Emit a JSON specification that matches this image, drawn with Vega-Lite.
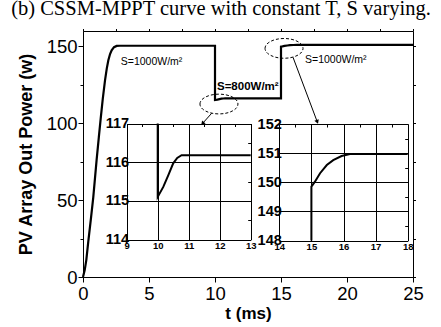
{
  "$schema": "https://vega.github.io/schema/vega-lite/v6.json",
  "width": 330,
  "height": 246,
  "autosize": {"type": "none"},
  "padding": {"left": 83, "top": 31, "right": 28, "bottom": 50},
  "background": "white",
  "title": {
    "text": "(b) CSSM-MPPT curve with constant T, S varying.",
    "font": "Liberation Serif",
    "fontSize": 20.5,
    "fontWeight": "normal",
    "color": "black",
    "anchor": "middle",
    "baseline": "alphabetic",
    "dx": -27,
    "dy": 19,
    "offset": 12
  },
  "datasets": {
    "power": [
      {"t": 0, "p": 0}, {"t": 0.13, "p": 4.5}, {"t": 0.25, "p": 11}, {"t": 0.4, "p": 23},
      {"t": 0.6, "p": 38}, {"t": 0.78, "p": 52}, {"t": 1.03, "p": 76}, {"t": 1.2, "p": 91},
      {"t": 1.34, "p": 103}, {"t": 1.5, "p": 116}, {"t": 1.67, "p": 128}, {"t": 1.8, "p": 135.5},
      {"t": 1.92, "p": 141}, {"t": 2.05, "p": 145}, {"t": 2.17, "p": 147.5}, {"t": 2.35, "p": 149.5},
      {"t": 2.55, "p": 150.3}, {"t": 2.8, "p": 150.4},
      {"t": 10, "p": 150.4}, {"t": 10, "p": 115.1}, {"t": 10.18, "p": 115.36}, {"t": 10.34, "p": 115.66},
      {"t": 10.5, "p": 115.97}, {"t": 10.63, "p": 116.11}, {"t": 10.77, "p": 116.18}, {"t": 13, "p": 116.18},
      {"t": 15, "p": 116.18}, {"t": 15, "p": 149.85}, {"t": 15.11, "p": 150.02}, {"t": 15.27, "p": 150.31},
      {"t": 15.48, "p": 150.59}, {"t": 15.68, "p": 150.76}, {"t": 15.94, "p": 150.9}, {"t": 16.2, "p": 150.97},
      {"t": 18, "p": 150.97}, {"t": 25, "p": 150.97}
    ],
    "notes": [
      {"t": 2.86, "p": 139.8, "label": "S=1000W/m²"},
      {"t": 10.15, "p": 123.7, "label": "S=800W/m²"},
      {"t": 16.82, "p": 141.4, "label": "S=1000W/m²"}
    ],
    "spots": [
      {"t": 10.3, "p": 112.5},
      {"t": 15.23, "p": 148.7}
    ],
    "arrows": [
      {"id": "a", "t": 9.75, "p": 106.5, "t2": 9.09, "p2": 100.2},
      {"id": "b", "t": 15.91, "p": 142.9, "t2": 17.73, "p2": 101.3}
    ]
  },
  "layer": [
    {
      "layer": [
        {
          "data": {"name": "power"},
          "mark": {"type": "line", "color": "black", "strokeWidth": 2.2},
          "encoding": {
            "x": {
              "field": "t", "type": "quantitative",
              "scale": {"domain": [0, 25], "nice": false, "zero": false},
              "axis": {
                "title": "t (ms)",
                "values": [0, 2.5, 5, 7.5, 10, 12.5, 15, 17.5, 20, 22.5, 25],
                "labelExpr": "datum.value % 5 === 0 ? datum.label : ''",
                "tickSize": {"condition": {"test": "datum.value % 5 !== 0", "value": 3}, "value": 5},
                "labelFontSize": 18.5,
                "labelPadding": 2,
                "labelFlush": false,
                "labelOverlap": false,
                "titleFontSize": 17,
                "titleFontWeight": "bold",
                "titlePadding": 3,
                "grid": false
              }
            },
            "y": {
              "field": "p", "type": "quantitative",
              "scale": {"domain": [0, 160], "nice": false, "zero": false},
              "axis": {
                "title": "PV Array Out Power (w)",
                "values": [0, 25, 50, 75, 100, 125, 150],
                "labelExpr": "datum.value % 50 === 0 ? datum.label : ''",
                "tickSize": {"condition": {"test": "datum.value % 50 !== 0", "value": 3}, "value": 5},
                "labelFontSize": 18.5,
                "labelPadding": 1,
                "labelFlush": false,
                "labelOverlap": false,
                "titleFontSize": 18,
                "titleFontWeight": "bold",
                "titlePadding": 11,
                "grid": false
              }
            },
            "order": {"value": null}
          }
        },
        {
          "data": {"name": "notes"},
          "transform": [{"filter": "datum.label !== 'S=800W/m²'"}],
          "mark": {"type": "text", "align": "left", "baseline": "middle", "font": "Liberation Sans", "fontSize": 10.5, "color": "black"},
          "encoding": {
            "x": {"field": "t", "type": "quantitative"},
            "y": {"field": "p", "type": "quantitative"},
            "text": {"field": "label"}
          }
        },
        {
          "data": {"name": "notes"},
          "transform": [{"filter": "datum.label === 'S=800W/m²'"}],
          "mark": {"type": "text", "align": "left", "baseline": "middle", "font": "Liberation Sans", "fontSize": 11.5, "fontWeight": "bold", "color": "black"},
          "encoding": {
            "x": {"field": "t", "type": "quantitative"},
            "y": {"field": "p", "type": "quantitative"},
            "text": {"field": "label"}
          }
        },
        {
          "data": {"name": "spots"},
          "mark": {
            "type": "point",
            "shape": "M -1 0 A 1 0.52 0 1 1 1 0 A 1 0.52 0 1 1 -1 0 Z",
            "size": 1444,
            "filled": false,
            "stroke": "black",
            "strokeWidth": 1,
            "strokeDash": [3, 2],
            "opacity": 1
          },
          "encoding": {
            "x": {"field": "t", "type": "quantitative"},
            "y": {"field": "p", "type": "quantitative"}
          }
        },
        {
          "data": {"name": "arrows"},
          "mark": {"type": "rule", "color": "black", "strokeWidth": 1},
          "encoding": {
            "x": {"field": "t", "type": "quantitative"},
            "y": {"field": "p", "type": "quantitative"},
            "x2": {"field": "t2"},
            "y2": {"field": "p2"}
          }
        },
        {
          "data": {"name": "arrows"},
          "transform": [{"filter": "datum.id === 'a'"}],
          "mark": {"type": "point", "shape": "triangle", "filled": true, "color": "black", "size": 22, "angle": 221, "opacity": 1},
          "encoding": {
            "x": {"field": "t2", "type": "quantitative"},
            "y": {"field": "p2", "type": "quantitative"}
          }
        },
        {
          "data": {"name": "arrows"},
          "transform": [{"filter": "datum.id === 'b'"}],
          "mark": {"type": "point", "shape": "triangle", "filled": true, "color": "black", "size": 22, "angle": 159, "opacity": 1},
          "encoding": {
            "x": {"field": "t2", "type": "quantitative"},
            "y": {"field": "p2", "type": "quantitative"}
          }
        }
      ]
    },
    {
      "layer": [
        {
          "data": {"name": "power"},
          "transform": [{"filter": "datum.t >= 10 && datum.t <= 13"}],
          "mark": {"type": "line", "color": "black", "strokeWidth": 2},
          "encoding": {
            "x": {
              "field": "t", "type": "quantitative",
              "scale": {"domain": [9, 13], "range": [43.7, 167.7], "clamp": true, "nice": false, "zero": false},
              "axis": {
                "orient": "bottom", "offset": -37.5, "title": null,
                "values": [9, 9.5, 10, 10.5, 11, 11.5, 12, 12.5, 13],
                "format": "d",
                "labelExpr": "datum.value % 1 === 0 ? datum.label : ''",
                "labelFontSize": 9.5, "labelFontWeight": "bold", "labelPadding": 4,
                "labelFlush": false, "labelOverlap": false,
                "tickSize": -3, "domain": false, "grid": false
              }
            },
            "y": {
              "field": "p", "type": "quantitative",
              "scale": {"domain": [114, 117], "range": [208.5, 92.5], "clamp": true, "nice": false, "zero": false},
              "axis": {
                "orient": "left", "offset": -43.7, "title": null,
                "values": [114, 114.5, 115, 115.5, 116, 116.5, 117],
                "format": "d",
                "labelExpr": "datum.value % 1 === 0 ? datum.label : ''",
                "labelFontSize": 14.5, "labelFontWeight": "bold", "labelPadding": 1,
                "labelFlush": false, "labelOverlap": false,
                "tickSize": -3, "domain": false, "grid": true,
                "gridColor": "black", "gridWidth": 1,
                "gridOpacity": {"condition": {"test": "datum.value % 1 !== 0", "value": 0}, "value": 1}
              }
            },
            "order": {"value": null}
          }
        },
        {
          "data": {"name": "power"},
          "transform": [{"filter": "datum.t >= 10 && datum.t <= 13"}],
          "mark": {"type": "line", "opacity": 0},
          "encoding": {
            "x": {
              "field": "t", "type": "quantitative",
              "axis": {
                "orient": "top", "offset": -92.5, "title": null,
                "values": [9, 9.5, 10, 10.5, 11, 11.5, 12, 12.5, 13],
                "labels": false, "tickSize": -3, "domain": false, "grid": true,
                "gridColor": "black", "gridWidth": 1,
                "gridOpacity": {"condition": {"test": "datum.value % 1 !== 0", "value": 0}, "value": 1}
              }
            },
            "y": {
              "field": "p", "type": "quantitative",
              "axis": {
                "orient": "right", "offset": -162.3, "title": null,
                "values": [114, 114.5, 115, 115.5, 116, 116.5, 117],
                "labels": false, "tickSize": -3, "domain": false, "grid": false
              }
            },
            "order": {"value": null}
          }
        }
      ],
      "resolve": {"axis": {"x": "independent", "y": "independent"}}
    },
    {
      "layer": [
        {
          "data": {"name": "power"},
          "transform": [{"filter": "datum.t >= 15 && datum.t <= 18"}],
          "mark": {"type": "line", "color": "black", "strokeWidth": 2},
          "encoding": {
            "x": {
              "field": "t", "type": "quantitative",
              "scale": {"domain": [14, 18], "range": [196.3, 324.7], "clamp": true, "nice": false, "zero": false},
              "axis": {
                "orient": "bottom", "offset": -36.5, "title": null,
                "values": [14, 14.5, 15, 15.5, 16, 16.5, 17, 17.5, 18],
                "format": "d",
                "labelExpr": "datum.value % 1 === 0 ? datum.label : ''",
                "labelFontSize": 9.5, "labelFontWeight": "bold", "labelPadding": 4,
                "labelFlush": false, "labelOverlap": false,
                "tickSize": -3, "domain": false, "grid": false
              }
            },
            "y": {
              "field": "p", "type": "quantitative",
              "scale": {"domain": [148, 152], "range": [209.5, 93], "clamp": true, "nice": false, "zero": false},
              "axis": {
                "orient": "left", "offset": -196.3, "title": null,
                "values": [148, 148.5, 149, 149.5, 150, 150.5, 151, 151.5, 152],
                "format": "d",
                "labelExpr": "datum.value % 1 === 0 ? datum.label : ''",
                "labelFontSize": 14.5, "labelFontWeight": "bold", "labelPadding": 1,
                "labelFlush": false, "labelOverlap": false,
                "tickSize": -3, "domain": false, "grid": true,
                "gridColor": "black", "gridWidth": 1,
                "gridOpacity": {"condition": {"test": "datum.value % 1 !== 0", "value": 0}, "value": 1}
              }
            },
            "order": {"value": null}
          }
        },
        {
          "data": {"name": "power"},
          "transform": [{"filter": "datum.t >= 15 && datum.t <= 18"}],
          "mark": {"type": "line", "opacity": 0},
          "encoding": {
            "x": {
              "field": "t", "type": "quantitative",
              "axis": {
                "orient": "top", "offset": -93, "title": null,
                "values": [14, 14.5, 15, 15.5, 16, 16.5, 17, 17.5, 18],
                "labels": false, "tickSize": -3, "domain": false, "grid": true,
                "gridColor": "black", "gridWidth": 1,
                "gridOpacity": {"condition": {"test": "datum.value % 1 !== 0", "value": 0}, "value": 1}
              }
            },
            "y": {
              "field": "p", "type": "quantitative",
              "axis": {
                "orient": "right", "offset": -5.3, "title": null,
                "values": [148, 148.5, 149, 149.5, 150, 150.5, 151, 151.5, 152],
                "labels": false, "tickSize": -3, "domain": false, "grid": false
              }
            },
            "order": {"value": null}
          }
        }
      ],
      "resolve": {"axis": {"x": "independent", "y": "independent"}}
    },
    {
      "data": {"name": "power"},
      "mark": {"type": "line", "opacity": 0},
      "encoding": {
        "x": {
          "field": "t", "type": "quantitative",
          "scale": {"domain": [0, 25], "nice": false, "zero": false},
          "axis": {
            "orient": "top", "title": null,
            "values": [0, 2.5, 5, 7.5, 10, 12.5, 15, 17.5, 20, 22.5, 25],
            "labels": false, "tickSize": 2.5, "domain": false, "grid": false
          }
        },
        "y": {
          "field": "p", "type": "quantitative",
          "scale": {"domain": [0, 160], "nice": false, "zero": false},
          "axis": {
            "orient": "right", "title": null,
            "values": [0, 25, 50, 75, 100, 125, 150],
            "labels": false, "tickSize": 2.5, "domain": false, "grid": false
          }
        },
        "order": {"value": null}
      }
    }
  ],
  "resolve": {
    "scale": {"x": "independent", "y": "independent"},
    "axis": {"x": "independent", "y": "independent"}
  },
  "config": {
    "font": "Liberation Sans",
    "view": {"stroke": "black", "strokeWidth": 1},
    "axis": {
      "labelFont": "Liberation Sans",
      "titleFont": "Liberation Sans",
      "labelColor": "black",
      "titleColor": "black",
      "tickColor": "black",
      "tickWidth": 1,
      "domainColor": "black",
      "domainWidth": 1,
      "gridColor": "black"
    }
  }
}
